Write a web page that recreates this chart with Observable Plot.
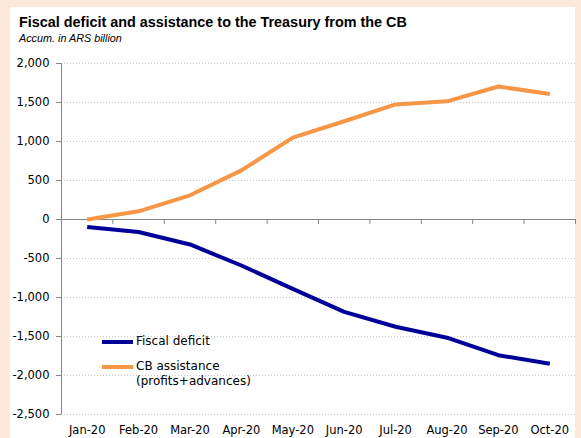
<!DOCTYPE html>
<html>
<head>
<meta charset="utf-8">
<script src="https://cdn.jsdelivr.net/npm/d3@7"></script>
<script src="https://cdn.jsdelivr.net/npm/@observablehq/plot@0.6"></script>
<style>
  html, body { margin: 0; padding: 0; }
  body { width: 581px; height: 438px; overflow: hidden; background: #FDE9D9; }
  #wrap { position: relative; width: 581px; height: 438px; }
  #panel { position: absolute; left: 10px; top: 7px; width: 565px; height: 431px; background: #ffffff; }
  #title { position: absolute; left: 19px; top: 14px; font: bold 14.4px "Liberation Sans", Arial, sans-serif; color: #000; white-space: nowrap; }
  #subtitle { position: absolute; left: 19px; top: 32px; font: italic 10.8px "Liberation Sans", Arial, sans-serif; color: #000; white-space: nowrap; }
  #chart { position: absolute; left: 0; top: 50px; }
  #legend { position: absolute; left: 102px; top: 334px; font: 12px "DejaVu Sans", sans-serif; color: #000; }
  .item { display: flex; align-items: flex-start; margin-bottom: 9px; line-height: 15.5px; }
  .sw { width: 31px; height: 4px; margin-top: 6px; margin-right: 3px; flex: none; }
</style>
</head>
<body>
<div id="wrap">
  <div id="panel"></div>
  <div id="title">Fiscal deficit and assistance to the Treasury from the CB</div>
  <div id="subtitle">Accum. in ARS billion</div>
  <div id="chart"></div>
  <div id="legend"></div>
</div>
<script>
const months = ["Jan-20","Feb-20","Mar-20","Apr-20","May-20","Jun-20","Jul-20","Aug-20","Sep-20","Oct-20"];
const fiscalDeficit = [-95, -160, -320, -590, -890, -1185, -1375, -1515, -1740, -1850];
const cbAssistance = [0, 105, 310, 630, 1050, 1260, 1475, 1515, 1705, 1610];
const seriesNames = ["Fiscal deficit", "CB assistance\n(profits+advances)"];
const seriesColors = ["#000099", "#F79646"];
const yTicks = [-2500, -2000, -1500, -1000, -500, 0, 500, 1000, 1500, 2000];
const yTickLabels = ["-2,500", "-2,000", "-1,500", "-1,000", "-500", "0", "500", "1,000", "1,500", "2,000"];

const rows = [];
months.forEach((m, i) => {
  rows.push({series: seriesNames[0], i, value: fiscalDeficit[i]});
  rows.push({series: seriesNames[1], i, value: cbAssistance[i]});
});
const centers = months.map((m, i) => i + 0.5);
const boundaries = months.map((m, i) => i + 1);

const axisGray = "#868686";
const font = '"DejaVu Sans", sans-serif';

const plot = Plot.plot({
  width: 581,
  height: 388,
  marginLeft: 61,
  marginRight: 6,
  marginTop: 13,
  marginBottom: 24,
  style: {background: "transparent", fontFamily: font, fontSize: "11.5px", color: "#000"},
  x: {type: "linear", domain: [0, months.length], axis: null, label: null},
  y: {domain: [-2500, 2000], axis: null, label: null},
  color: {domain: seriesNames, range: seriesColors},
  marks: [
    Plot.gridY(yTicks.filter(d => d !== 0), {stroke: "#c8c8c8", strokeOpacity: 1, strokeDasharray: "1,2"}),
    Plot.ruleY([0], {stroke: axisGray, strokeWidth: 1}),
    Plot.ruleX([0], {y1: -2500, y2: 2000, stroke: axisGray}),
    Plot.ruleX(boundaries, {y1: 0, y2: -64, stroke: axisGray}),
    Plot.axisY({ticks: yTicks, tickFormat: (d) => yTickLabels[yTicks.indexOf(d)], label: null, tickSize: 5, tickPadding: 7, stroke: axisGray, fontSize: 11.5, fontFamily: font}),
    Plot.axisX({ticks: centers, tickFormat: (d) => months[Math.round(d - 0.5)], label: null, tickSize: 0, tickPadding: 11, fontSize: 11.5, fontFamily: font}),
    Plot.line(rows, {x: d => d.i + 0.5, y: "value", z: "series", stroke: "series", strokeWidth: 4, strokeLinejoin: "round", strokeLinecap: "butt"})
  ]
});
document.getElementById("chart").appendChild(plot);

const legend = document.getElementById("legend");
seriesNames.forEach((name, k) => {
  const item = document.createElement("div");
  item.className = "item";
  const sw = document.createElement("div");
  sw.className = "sw";
  sw.style.background = seriesColors[k];
  const label = document.createElement("div");
  label.innerHTML = name.split("\n").join("<br>");
  item.appendChild(sw);
  item.appendChild(label);
  legend.appendChild(item);
});
</script>
</body>
</html>
